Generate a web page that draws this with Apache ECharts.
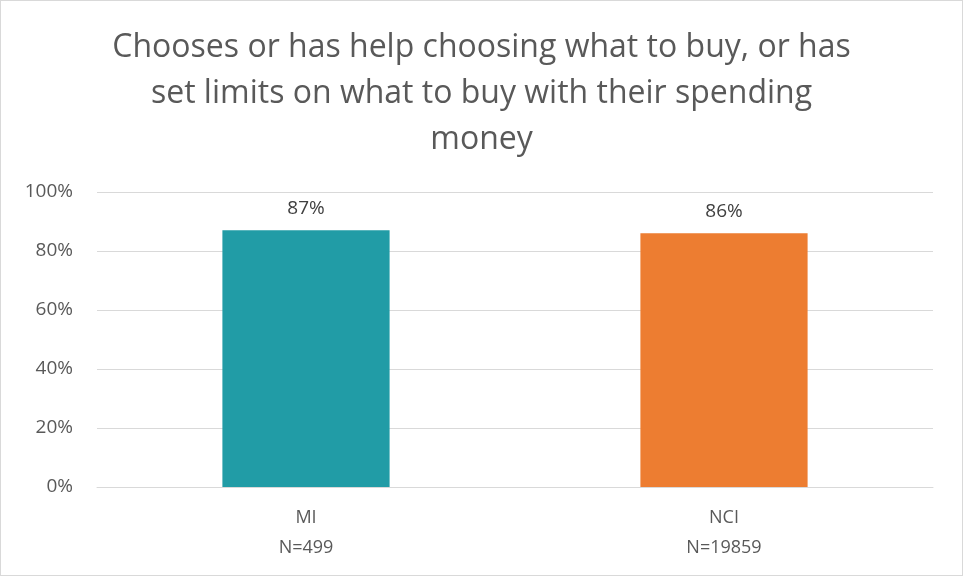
<!DOCTYPE html>
<html>
<head>
<meta charset="utf-8">
<script src="https://cdn.jsdelivr.net/npm/echarts@6/dist/echarts.min.js"></script>
<style>
html, body { margin: 0; padding: 0; background: #fff; }
#chart { width: 961px; height: 574px; border: 1px solid #d9d9d9; }
</style>
</head>
<body>
<div id="chart"></div>
<script>
// 数据
var categories = ['MI\nN=499', 'NCI\nN=19859'];
var values = [87, 86];
var barColors = ['#219ca6', '#ed7d31'];
var yTicks = [0, 20, 40, 60, 80, 100];

var chart = echarts.init(document.getElementById('chart'));
var option = {
	animation: false,
	textStyle: { fontFamily: 'Open Sans' },
	title: {
		text: 'Chooses or has help choosing what to buy, or has\nset limits on what to buy with their spending\nmoney',
		left: 'center',
		top: 19,
		textStyle: {
			color: '#595959',
			fontSize: 32,
			fontWeight: 'normal',
			lineHeight: 46,
			fontFamily: 'Open Sans'
		}
	},
	grid: {
		left: 96,
		right: 29,
		top: 191,
		bottom: 88
	},
	xAxis: {
		type: 'category',
		data: categories,
		axisLine: { show: true, lineStyle: { color: '#d9d9d9', width: 1 } },
		axisTick: { show: false },
		axisLabel: {
			color: '#595959',
			fontSize: 18,
			lineHeight: 30,
			margin: 16,
			fontFamily: 'Open Sans'
		}
	},
	yAxis: {
		type: 'value',
		min: yTicks[0],
		max: yTicks[yTicks.length - 1],
		interval: 20,
		axisLine: { show: false },
		axisTick: { show: false },
		splitLine: { lineStyle: { color: '#d9d9d9', width: 1 } },
		axisLabel: {
			color: '#595959',
			fontSize: 19,
			margin: 24,
			fontFamily: 'Open Sans',
			formatter: function (v) { return v + '%'; }
		}
	},
	series: [{
		type: 'bar',
		barWidth: '40%',
		data: values.map(function (v, i) {
			return { value: v, itemStyle: { color: barColors[i] } };
		}),
		label: {
			show: true,
			position: 'top',
			distance: 10,
			color: '#404040',
			fontSize: 19,
			fontFamily: 'Open Sans',
			backgroundColor: '#fff',
			padding: [2, 12],
			formatter: function (p) { return p.value + '%'; }
		}
	}]
};
chart.setOption(option);

window.onresize = function () {
	chart.resize();
};
</script>
</body>
</html>
